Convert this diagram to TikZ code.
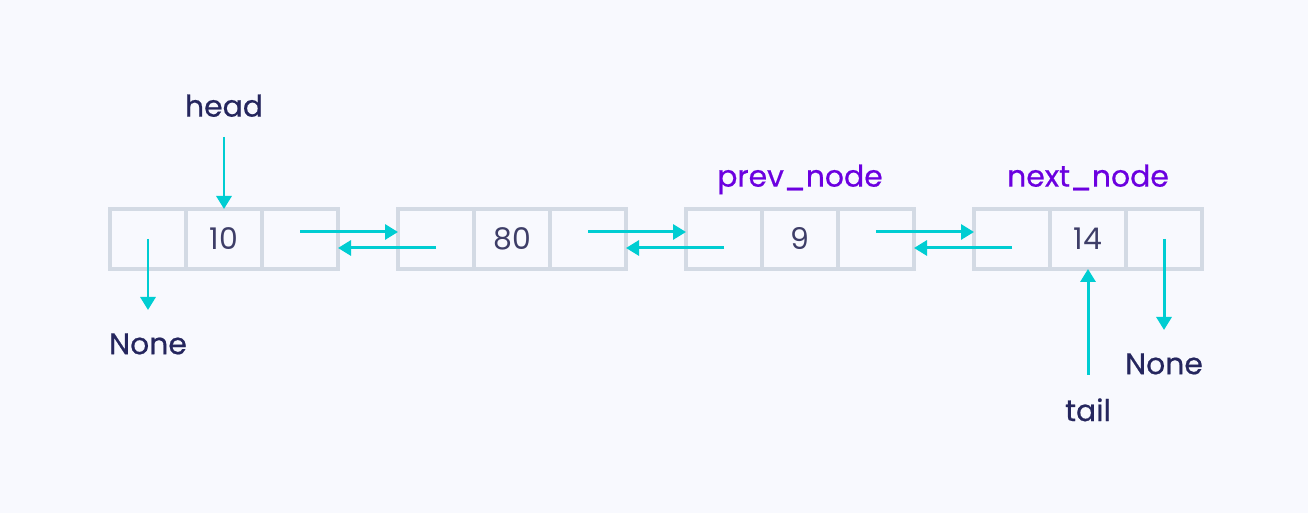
\documentclass[tikz,border=0pt]{standalone}
\usepackage{fontspec}
\setmainfont{Poppins}
\newfontfamily\medfont{Poppins}[FakeBold=0.6]
\usetikzlibrary{arrows.meta,positioning}
\definecolor{PageBg}{RGB}{248,249,254}
\definecolor{CellLine}{RGB}{211,218,228}
\definecolor{PtrCyan}{RGB}{0,205,210}
\definecolor{InkNavy}{RGB}{37,38,94}
\definecolor{ValInk}{RGB}{62,62,104}
\definecolor{VarPurple}{RGB}{108,0,224}
\tikzset{
  cell/.style={draw=CellLine,line width=2.2pt,minimum width=1.52cm,
    minimum height=1.2cm,inner sep=0pt,outer sep=0pt,text=ValInk,
    font=\fontsize{17}{20}\selectfont},
  tag/.style={inner sep=0pt,text depth=0pt,text=InkNavy,
    font=\medfont\fontsize{17}{20}\selectfont},
  var/.style={tag,text=VarPurple},
  ptr/.style={-{Triangle[length=0.26cm,width=0.3cm]},line width=1.7pt,PtrCyan}
}

\begin{document}
\begin{tikzpicture}[node distance=0pt]
  \fill[PageBg] (0,0) rectangle (26.16,10.26);
  \useasboundingbox (0,0) rectangle (26.16,10.26);
      % first node
      \node[cell] (a1) at (2.96,5.48) {};
      \node[cell,right=of a1] (a2) {10};
      \node[cell,right=of a2] (a3) {};
      % second node
      \node[cell,right=1.2cm of a3] (b1) {};
      \node[cell,right=of b1] (b2) {80};
      \node[cell,right=of b2] (b3) {};
      % third node
      \node[cell,right=1.2cm of b3] (c1) {};
      \node[cell,right=of c1] (c2) {9};
      \node[cell,right=of c2] (c3) {};
      % fourth node
      \node[cell,right=1.2cm of c3] (d1) {};
      \node[cell,right=of d1] (d2) {14};
      \node[cell,right=of d2] (d3) {};
      % labels
      \node[tag,above=1.84cm of a2] (head) {head};
      \node[var,above=0.44cm of c2] (prev) {prev\_node};
      \node[var,above=0.44cm of d2] (next) {next\_node};
      \node[tag,below=1.28cm of a1] (noneL) {None};
      \node[tag,below=1.68cm of d3] (noneR) {None};
      \node[tag,below=2.58cm of d2] (tail) {tail};
      % links
      \draw[ptr] ([yshift=0.14cm]a3.center) -- ([yshift=0.14cm]b1.west);
      \draw[ptr] ([yshift=-0.18cm]b1.center) -- ([yshift=-0.18cm]a3.east);
      \draw[ptr] ([yshift=0.14cm]b3.center) -- ([yshift=0.14cm]c1.west);
      \draw[ptr] ([yshift=-0.18cm]c1.center) -- ([yshift=-0.18cm]b3.east);
      \draw[ptr] ([yshift=0.14cm]c3.center) -- ([yshift=0.14cm]d1.west);
      \draw[ptr] ([yshift=-0.18cm]d1.center) -- ([yshift=-0.18cm]c3.east);
      \draw[ptr] ([yshift=-0.4cm]head.south) -- (a2.north);
      \draw[ptr] (a1.center) -- ([yshift=0.46cm]noneL.north);
      \draw[ptr] (d3.center) -- ([yshift=0.46cm]noneR.north);
      \draw[ptr] ([yshift=0.46cm]tail.north) -- (d2.south);
\end{tikzpicture}
\end{document}
